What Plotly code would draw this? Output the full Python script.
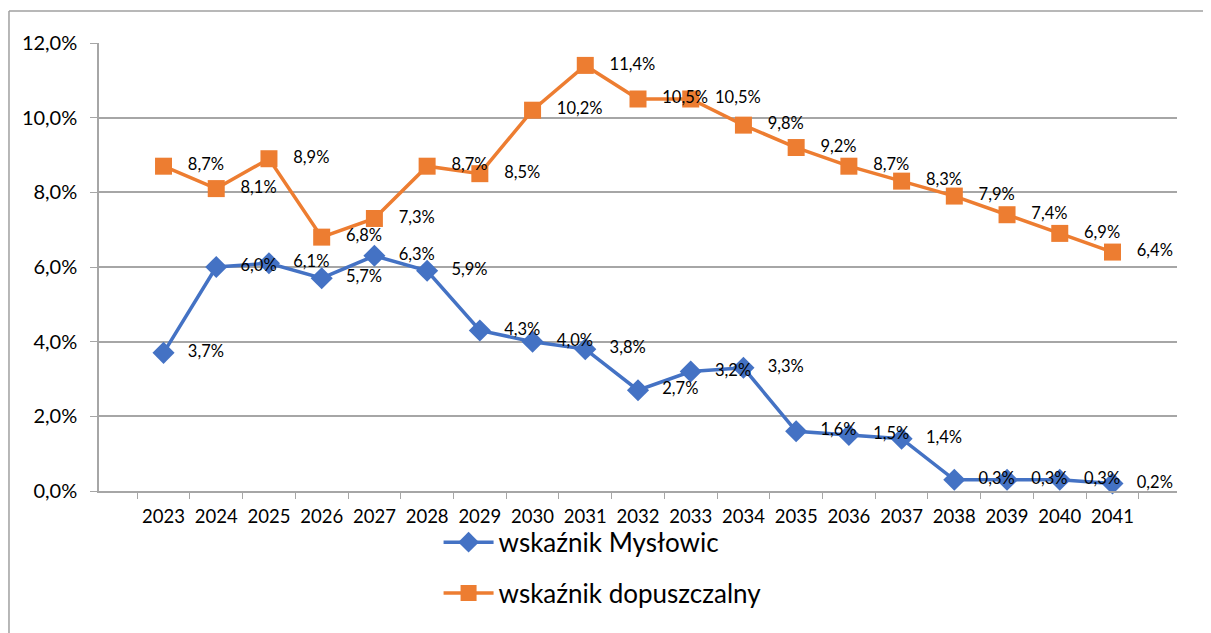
import plotly.graph_objects as go

years = [str(y) for y in range(2023, 2042)]
myslowice = [3.7, 6.0, 6.1, 5.7, 6.3, 5.9, 4.3, 4.0, 3.8, 2.7, 3.2, 3.3, 1.6, 1.5, 1.4, 0.3, 0.3, 0.3, 0.2]
dopuszczalny = [8.7, 8.1, 8.9, 6.8, 7.3, 8.7, 8.5, 10.2, 11.4, 10.5, 10.5, 9.8, 9.2, 8.7, 8.3, 7.9, 7.4, 6.9, 6.4]
y_ticks = [0, 2, 4, 6, 8, 10, 12]
y_tick_labels = ["0,0%", "2,0%", "4,0%", "6,0%", "8,0%", "10,0%", "12,0%"]

BLUE = "#4472C4"
ORANGE = "#ED7D31"
GRID = "#A6A6A6"
FONT = "Lato"


def lab(v):
    return "   " + f"{v:.1f}".replace(".", ",") + "%"


fig = go.Figure()
fig.add_trace(go.Scatter(
    x=years, y=myslowice, name="wskaźnik Mysłowic", mode="lines+markers+text",
    line=dict(color=BLUE, width=3.5),
    marker=dict(symbol="diamond", size=17, color=BLUE),
    text=[lab(v) for v in myslowice], textposition="middle right",
    textfont=dict(family=FONT, size=16.5, color="#000000"),
    cliponaxis=False, legendgroup="a",
))
fig.add_trace(go.Scatter(
    x=years, y=dopuszczalny, name="wskaźnik dopuszczalny", mode="lines+markers+text",
    line=dict(color=ORANGE, width=3.5),
    marker=dict(symbol="square", size=17, color=ORANGE),
    text=[lab(v) for v in dopuszczalny], textposition="middle right",
    textfont=dict(family=FONT, size=16.5, color="#000000"),
    cliponaxis=False, legendgroup="b",
))

fig.update_layout(
    width=1211, height=633,
    margin=dict(l=91, r=42, t=35, b=150),
    paper_bgcolor="white", plot_bgcolor="white",
    font=dict(family=FONT, color="#000000"),
    showlegend=True,
    legend=dict(
        orientation="v", x=0.315, y=-0.062, xanchor="left", yanchor="top",
        font=dict(family=FONT, size=26, color="#000000"),
        tracegroupgap=14, itemwidth=50, bgcolor="rgba(0,0,0,0)",
    ),
    xaxis=dict(
        type="category", showgrid=False, showline=True, linecolor=GRID, linewidth=1.5,
        ticks="outside", tickson="boundaries", ticklen=6, tickcolor=GRID,
        ticklabelstandoff=8, tickangle=0,
        tickfont=dict(family=FONT, size=18.5, color="#000000"),
        zeroline=False,
    ),
    yaxis=dict(
        range=[0, 12], tickvals=y_ticks, ticktext=y_tick_labels,
        showgrid=True, gridcolor=GRID, gridwidth=1.5,
        showline=True, linecolor=GRID, linewidth=1.5,
        ticks="outside", ticklen=7, tickcolor=GRID,
        ticklabelstandoff=9,
        tickfont=dict(family=FONT, size=20, color="#000000"),
        zeroline=False,
    ),
    shapes=[
        dict(type="line", xref="paper", yref="paper", x0=-0.0835, x1=1.05, y0=1.0714, y1=1.0714,
             line=dict(color="#A0A0A0", width=1.5)),
        dict(type="line", xref="paper", yref="paper", x0=-0.0835, x1=-0.0835, y0=1.0714, y1=-0.4,
             line=dict(color="#A0A0A0", width=1.5)),
    ],
)

fig.write_html("out.html")
